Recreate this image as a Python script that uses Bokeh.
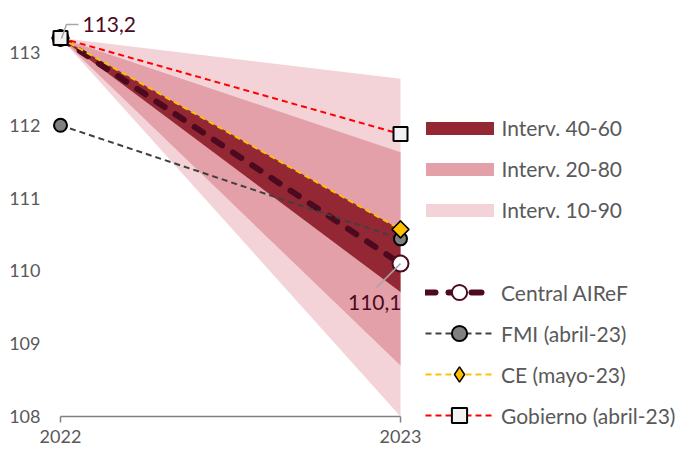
import math
from bokeh.plotting import figure
from bokeh.models import Range1d, FixedTicker, Legend, LegendItem, Label
from bokeh.embed import file_html
from bokeh.resources import INLINE

# ---- data ----
years = [2022, 2023]
central = [113.2, 110.1]
fmi = [112.0, 110.44]
ce = [113.2, 110.57]
gobierno = [113.2, 111.88]
p10 = [113.2, 108.0]
p90 = [113.2, 112.64]
p20 = [113.2, 108.7]
p80 = [113.2, 111.63]
p40 = [113.2, 109.71]
p60 = [113.2, 110.57]
y_ticks = [108, 109, 110, 111, 112, 113]
x_ticks = [2022, 2023]
band_labels = ["Interv. 40-60", "Interv. 20-80", "Interv. 10-90"]
series_labels = ["Central AIReF", "FMI (abril-23)", "CE (mayo-23)", "Gobierno (abril-23)"]

FONT = "Lato"
TXT = "#595959"
MAROON = "#4D0A1F"

PX_X = 340.0   # pixels per year
PX_Y = 72.8    # pixels per unit
FW, FH = 690, 450
x_start = 2022 - 60 / PX_X
y_end = 113 + 52 / PX_Y

p = figure(frame_width=FW, frame_height=FH,
           x_range=Range1d(x_start, x_start + FW / PX_X),
           y_range=Range1d(y_end - FH / PX_Y, y_end),
           output_backend="svg", toolbar_location=None,
           min_border_left=0, min_border_right=0, min_border_top=0, min_border_bottom=0)
p.outline_line_color = None
p.xgrid.visible = False
p.ygrid.visible = False
p.background_fill_color = "white"

# bands
v10 = p.varea(x=years, y1=p10, y2=p90, fill_color="#F3D3D7")
v20 = p.varea(x=years, y1=p20, y2=p80, fill_color="#E3A0A8")
v40 = p.varea(x=years, y1=p40, y2=p60, fill_color="#932834")

# central
c_line = p.line(years, central, line_color=MAROON, line_width=6, line_dash="10 13", line_cap="round")
c_pts = p.scatter(years, central, marker="circle", size=16, fill_color="white",
                  line_color=MAROON, line_width=2)
# FMI
f_line = p.line(years, fmi, line_color="#404040", line_width=2, line_dash="6 4")
f_pts = p.scatter(years, fmi, marker="circle", size=13, fill_color="#808080",
                  line_color="black", line_width=2)
# CE
ce_line = p.line(years, ce, line_color="#FFC000", line_width=2, line_dash="6 4")
ce_leg = p.scatter(years, ce, marker="diamond", size=17, fill_color="#FFC000",
                   line_color="black", line_width=1.5)
ce_pts = p.scatter(years, ce, marker="square", angle=math.pi / 4, size=12, fill_color="#FFC000",
                   line_color="black", line_width=1.5)
# Gobierno
g_line = p.line(years, gobierno, line_color="#FF0000", line_width=2, line_dash="6 4")
g_pts = p.scatter(years, gobierno, marker="square", size=14, fill_color="#F2F2F2",
                  line_color="black", line_width=2)

# annotations
lab1 = f"{central[0]:.1f}".replace(".", ",")
lab2 = f"{central[1]:.1f}".replace(".", ",")
p.line([years[0] + 1 / PX_X, years[0] + 6 / PX_X, years[0] + 18 / PX_X],
       [central[0] - 0.6 / PX_Y, central[0] + 13.4 / PX_Y, central[0] + 13.4 / PX_Y],
       line_color="#A6A6A6", line_width=1.5)
p.line([years[1], years[1] - 24 / PX_X], [central[1], central[1] - 24 / PX_Y],
       line_color="#A6A6A6", line_width=1.5)
p.add_layout(Label(x=years[0], y=central[0], text=lab1, x_offset=22, y_offset=13,
                   text_baseline="middle", text_align="left", text_font=FONT,
                   text_font_size="21px", text_color=MAROON))
p.add_layout(Label(x=years[1], y=central[1], text=lab2, x_offset=1, y_offset=-39,
                   text_baseline="middle", text_align="right", text_font=FONT,
                   text_font_size="21px", text_color=MAROON))

# axes (placed inside the frame)
p.xaxis.fixed_location = 108
p.xaxis.ticker = FixedTicker(ticks=x_ticks)
p.xaxis.bounds = (2022, 2023)
p.xaxis.axis_line_color = "#808080"
p.xaxis.axis_line_width = 1.5
p.xaxis.major_tick_line_color = "#808080"
p.xaxis.major_tick_line_width = 1.5
p.xaxis.major_tick_out = 6
p.xaxis.major_tick_in = 0
p.xaxis.minor_tick_line_color = None
p.xaxis.major_label_text_font = FONT
p.xaxis.major_label_text_font_size = "18px"
p.xaxis.major_label_text_color = TXT
p.xaxis.major_label_standoff = 7

p.yaxis.fixed_location = 2022 - 16 / PX_X
p.yaxis.ticker = FixedTicker(ticks=y_ticks)
p.yaxis.axis_line_color = None
p.yaxis.major_tick_line_color = None
p.yaxis.major_tick_out = 0
p.yaxis.major_tick_in = 0
p.yaxis.minor_tick_line_color = None
p.yaxis.major_label_text_font = FONT
p.yaxis.major_label_text_font_size = "18px"
p.yaxis.major_label_text_color = TXT
p.yaxis.major_label_standoff = 4

# legends
common = dict(padding=0, margin=0, border_line_alpha=0, background_fill_alpha=0,
              label_text_font=FONT, label_text_font_size="21px", label_text_color=TXT)
band_legend = Legend(items=[LegendItem(label=band_labels[0], renderers=[v40]),
                            LegendItem(label=band_labels[1], renderers=[v20]),
                            LegendItem(label=band_labels[2], renderers=[v10])],
                     location=(416.5, 228), glyph_width=85, glyph_height=16,
                     label_height=25, spacing=16, label_standoff=0, **common)
line_legend = Legend(items=[LegendItem(label=series_labels[0], renderers=[c_line, c_pts]),
                            LegendItem(label=series_labels[1], renderers=[f_line, f_pts]),
                            LegendItem(label=series_labels[2], renderers=[ce_line, ce_leg]),
                            LegendItem(label=series_labels[3], renderers=[g_line, g_pts])],
                     location=(425, 15.7), glyph_width=68, glyph_height=38,
                     label_height=38, spacing=3, label_standoff=8, **common)
p.add_layout(band_legend)
p.add_layout(line_legend)

open("out.html", "w").write(file_html(p, INLINE))
